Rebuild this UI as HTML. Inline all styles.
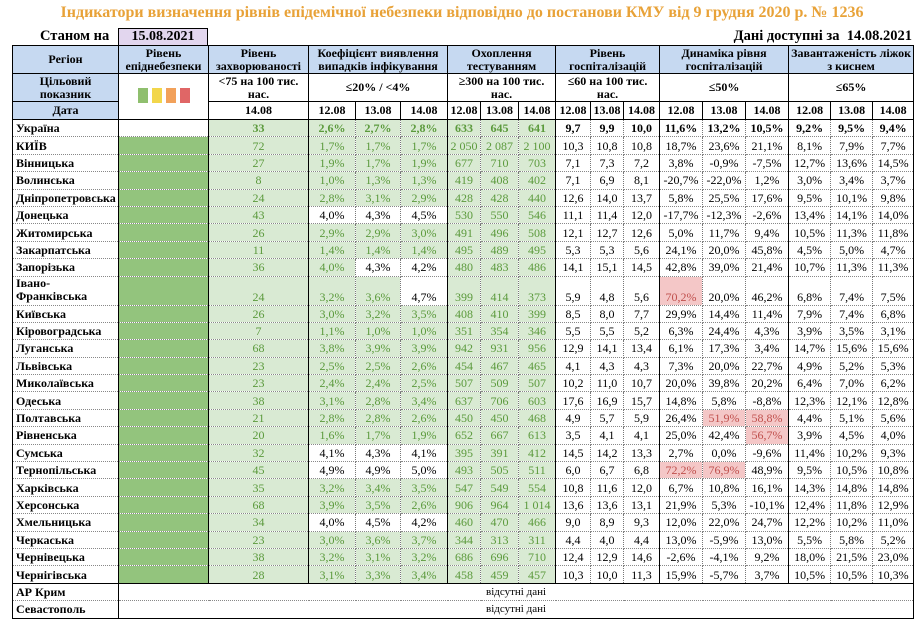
<!DOCTYPE html>
<html><head><meta charset="utf-8">
<style>
body{margin:0;width:924px;height:627px;background:#fff;position:relative;overflow:hidden;font-family:"Liberation Serif",serif;}
.title{position:absolute;left:0;width:924px;top:4px;text-align:center;color:#e8a238;font-weight:bold;font-size:16px;}
.st{position:absolute;left:40px;top:28px;font-weight:bold;font-size:14.5px;}
.dt{position:absolute;left:118px;top:28px;width:90px;height:17px;background:#e2d6ee;border:1px solid #000;border-bottom:none;box-sizing:border-box;text-align:center;font-weight:bold;font-size:14px;line-height:16px;}
.da{position:absolute;right:12px;top:28px;font-weight:bold;font-size:14.5px;}
table{position:absolute;left:12px;top:45px;border-collapse:collapse;table-layout:fixed;width:901px;font-size:12px;border:1.5px solid #000;}
td{padding:0;text-align:center;border-right:1px dotted #777;border-bottom:1px dotted #888;white-space:nowrap;overflow:hidden;line-height:12px;}
thead td{border:1px solid #000;font-weight:bold;font-size:12px;line-height:12.5px;}
thead .b{background:#c6d9f1;}
tbody tr{height:17.4px;}
tbody td:nth-child(1){text-align:left;font-weight:bold;padding-left:3px;font-size:12px;border-right:1px solid #000;}
tbody td:nth-child(2){background:#93c47d;border-right:1px solid #000;}
tbody td:nth-child(3){background:#d9ead3;color:#5b9a3c;border-right:1px solid #000;}
tbody td:nth-child(4),tbody td:nth-child(5),tbody td:nth-child(6),tbody td:nth-child(7),tbody td:nth-child(8),tbody td:nth-child(9){background:#d9ead3;color:#5b9a3c;}
tbody td:nth-child(6),tbody td:nth-child(9),tbody td:nth-child(12),tbody td:nth-child(15){border-right:1px solid #000;}
tbody td.w{background:#fff;color:#000;}
tbody td.r{background:#f4c7c7;color:#c0504d;}
tr.u td{font-weight:bold;font-size:12px;}
tr.u td:nth-child(2){background:#fff;}
tr.iv td{vertical-align:bottom;padding-bottom:2px;}
tr.iv td:nth-child(1){line-height:13px;}
tr.na td:nth-child(2){background:#fff;color:#000;font-size:11px;border-right:none;}
.sq{display:inline-block;width:10px;height:15px;margin:0 2px;}
</style></head><body>
<div class="title">Індикатори визначення рівнів епідемічної небезпеки відповідно до постанови КМУ від 9 грудня 2020 р. № 1236</div>
<div class="st">Станом на</div>
<div class="dt">15.08.2021</div>
<div class="da">Дані доступні за&nbsp; 14.08.2021</div>
<table>
<colgroup><col style="width:106px"><col style="width:90px"><col style="width:100px"><col style="width:47px"><col style="width:45px"><col style="width:47px"><col style="width:33px"><col style="width:38px"><col style="width:37px"><col style="width:35px"><col style="width:33px"><col style="width:36px"><col style="width:43px"><col style="width:43px"><col style="width:43px"><col style="width:42px"><col style="width:42px"><col style="width:41px"></colgroup>
<thead>
<tr style="height:28px"><td class="b">Регіон</td><td class="b">Рівень<br>епіднебезпеки</td><td class="b">Рівень<br>захворюваності</td><td class="b" colspan="3">Коефіцієнт виявлення<br>випадків інфікування</td><td class="b" colspan="3">Охоплення<br>тестуванням</td><td class="b" colspan="3">Рівень<br>госпіталізацій</td><td class="b" colspan="3">Динаміка рівня<br>госпіталізацій</td><td class="b" colspan="3">Завантаженість ліжок<br>з киснем</td></tr>
<tr style="height:28px"><td class="b">Цільовий<br>показник</td><td rowspan="2"><span class="sq" style="background:#8fbf6e"></span><span class="sq" style="background:#f2d64b"></span><span class="sq" style="background:#f2a15a"></span><span class="sq" style="background:#e06666"></span></td><td>&lt;75 на 100 тис.<br>нас.</td><td colspan="3">≤20% / &lt;4%</td><td colspan="3">≥300 на 100 тис.<br>нас.</td><td colspan="3">≤60 на 100 тис.<br>нас.</td><td colspan="3">≤50%</td><td colspan="3">≤65%</td></tr>
<tr style="height:18px"><td class="b">Дата</td><td>14.08</td><td>12.08</td><td>13.08</td><td>14.08</td><td>12.08</td><td>13.08</td><td>14.08</td><td>12.08</td><td>13.08</td><td>14.08</td><td>12.08</td><td>13.08</td><td>14.08</td><td>12.08</td><td>13.08</td><td>14.08</td></tr>
</thead>
<tbody>
<tr class="u"><td>Україна</td><td></td><td>33</td><td>2,6%</td><td>2,7%</td><td>2,8%</td><td>633</td><td>645</td><td>641</td><td>9,7</td><td>9,9</td><td>10,0</td><td>11,6%</td><td>13,2%</td><td>10,5%</td><td>9,2%</td><td>9,5%</td><td>9,4%</td></tr>
<tr><td>КИЇВ</td><td></td><td>72</td><td>1,7%</td><td>1,7%</td><td>1,7%</td><td>2 050</td><td>2 087</td><td>2 100</td><td>10,3</td><td>10,8</td><td>10,8</td><td>18,7%</td><td>23,6%</td><td>21,1%</td><td>8,1%</td><td>7,9%</td><td>7,7%</td></tr>
<tr><td>Вінницька</td><td></td><td>27</td><td>1,9%</td><td>1,7%</td><td>1,9%</td><td>677</td><td>710</td><td>703</td><td>7,1</td><td>7,3</td><td>7,2</td><td>3,8%</td><td>-0,9%</td><td>-7,5%</td><td>12,7%</td><td>13,6%</td><td>14,5%</td></tr>
<tr><td>Волинська</td><td></td><td>8</td><td>1,0%</td><td>1,3%</td><td>1,3%</td><td>419</td><td>408</td><td>402</td><td>7,1</td><td>6,9</td><td>8,1</td><td>-20,7%</td><td>-22,0%</td><td>1,2%</td><td>3,0%</td><td>3,4%</td><td>3,7%</td></tr>
<tr><td>Дніпропетровська</td><td></td><td>24</td><td>2,8%</td><td>3,1%</td><td>2,9%</td><td>428</td><td>428</td><td>440</td><td>12,6</td><td>14,0</td><td>13,7</td><td>5,8%</td><td>25,5%</td><td>17,6%</td><td>9,5%</td><td>10,1%</td><td>9,8%</td></tr>
<tr><td>Донецька</td><td></td><td>43</td><td class="w">4,0%</td><td class="w">4,3%</td><td class="w">4,5%</td><td>530</td><td>550</td><td>546</td><td>11,1</td><td>11,4</td><td>12,0</td><td>-17,7%</td><td>-12,3%</td><td>-2,6%</td><td>13,4%</td><td>14,1%</td><td>14,0%</td></tr>
<tr><td>Житомирська</td><td></td><td>26</td><td>2,9%</td><td>2,9%</td><td>3,0%</td><td>491</td><td>496</td><td>508</td><td>12,1</td><td>12,7</td><td>12,6</td><td>5,0%</td><td>11,7%</td><td>9,4%</td><td>10,5%</td><td>11,3%</td><td>11,8%</td></tr>
<tr><td>Закарпатська</td><td></td><td>11</td><td>1,4%</td><td>1,4%</td><td>1,4%</td><td>495</td><td>489</td><td>495</td><td>5,3</td><td>5,3</td><td>5,6</td><td>24,1%</td><td>20,0%</td><td>45,8%</td><td>4,5%</td><td>5,0%</td><td>4,7%</td></tr>
<tr><td>Запорізька</td><td></td><td>36</td><td>4,0%</td><td class="w">4,3%</td><td class="w">4,2%</td><td>480</td><td>483</td><td>486</td><td>14,1</td><td>15,1</td><td>14,5</td><td>42,8%</td><td>39,0%</td><td>21,4%</td><td>10,7%</td><td>11,3%</td><td>11,3%</td></tr>
<tr class="iv" style="height:27px"><td>Івано-<br>Франківська</td><td></td><td>24</td><td>3,2%</td><td>3,6%</td><td class="w">4,7%</td><td>399</td><td>414</td><td>373</td><td>5,9</td><td>4,8</td><td>5,6</td><td class="r">70,2%</td><td>20,0%</td><td>46,2%</td><td>6,8%</td><td>7,4%</td><td>7,5%</td></tr>
<tr><td>Київська</td><td></td><td>26</td><td>3,0%</td><td>3,2%</td><td>3,5%</td><td>408</td><td>410</td><td>399</td><td>8,5</td><td>8,0</td><td>7,7</td><td>29,9%</td><td>14,4%</td><td>11,4%</td><td>7,9%</td><td>7,4%</td><td>6,8%</td></tr>
<tr><td>Кіровоградська</td><td></td><td>7</td><td>1,1%</td><td>1,0%</td><td>1,0%</td><td>351</td><td>354</td><td>346</td><td>5,5</td><td>5,5</td><td>5,2</td><td>6,3%</td><td>24,4%</td><td>4,3%</td><td>3,9%</td><td>3,5%</td><td>3,1%</td></tr>
<tr><td>Луганська</td><td></td><td>68</td><td>3,8%</td><td>3,9%</td><td>3,9%</td><td>942</td><td>931</td><td>956</td><td>12,9</td><td>14,1</td><td>13,4</td><td>6,1%</td><td>17,3%</td><td>3,4%</td><td>14,7%</td><td>15,6%</td><td>15,6%</td></tr>
<tr><td>Львівська</td><td></td><td>23</td><td>2,5%</td><td>2,5%</td><td>2,6%</td><td>454</td><td>467</td><td>465</td><td>4,1</td><td>4,3</td><td>4,3</td><td>7,3%</td><td>20,0%</td><td>22,7%</td><td>4,9%</td><td>5,2%</td><td>5,3%</td></tr>
<tr><td>Миколаївська</td><td></td><td>23</td><td>2,4%</td><td>2,4%</td><td>2,5%</td><td>507</td><td>509</td><td>507</td><td>10,2</td><td>11,0</td><td>10,7</td><td>20,0%</td><td>39,8%</td><td>20,2%</td><td>6,4%</td><td>7,0%</td><td>6,2%</td></tr>
<tr><td>Одеська</td><td></td><td>38</td><td>3,1%</td><td>2,8%</td><td>3,4%</td><td>637</td><td>706</td><td>603</td><td>17,6</td><td>16,9</td><td>15,7</td><td>14,8%</td><td>5,8%</td><td>-8,8%</td><td>12,3%</td><td>12,1%</td><td>12,8%</td></tr>
<tr><td>Полтавська</td><td></td><td>21</td><td>2,8%</td><td>2,8%</td><td>2,6%</td><td>450</td><td>450</td><td>468</td><td>4,9</td><td>5,7</td><td>5,9</td><td>26,4%</td><td class="r">51,9%</td><td class="r">58,8%</td><td>4,4%</td><td>5,1%</td><td>5,6%</td></tr>
<tr><td>Рівненська</td><td></td><td>20</td><td>1,6%</td><td>1,7%</td><td>1,9%</td><td>652</td><td>667</td><td>613</td><td>3,5</td><td>4,1</td><td>4,1</td><td>25,0%</td><td>42,4%</td><td class="r">56,7%</td><td>3,9%</td><td>4,5%</td><td>4,0%</td></tr>
<tr><td>Сумська</td><td></td><td>32</td><td class="w">4,1%</td><td class="w">4,3%</td><td class="w">4,1%</td><td>395</td><td>391</td><td>412</td><td>14,5</td><td>14,2</td><td>13,3</td><td>2,7%</td><td>0,0%</td><td>-9,6%</td><td>11,4%</td><td>10,2%</td><td>9,3%</td></tr>
<tr><td>Тернопільська</td><td></td><td>45</td><td class="w">4,9%</td><td class="w">4,9%</td><td class="w">5,0%</td><td>493</td><td>505</td><td>511</td><td>6,0</td><td>6,7</td><td>6,8</td><td class="r">72,2%</td><td class="r">76,9%</td><td>48,9%</td><td>9,5%</td><td>10,5%</td><td>10,8%</td></tr>
<tr><td>Харківська</td><td></td><td>35</td><td>3,2%</td><td>3,4%</td><td>3,5%</td><td>547</td><td>549</td><td>554</td><td>10,8</td><td>11,6</td><td>12,0</td><td>6,7%</td><td>10,8%</td><td>16,1%</td><td>14,3%</td><td>14,8%</td><td>14,8%</td></tr>
<tr><td>Херсонська</td><td></td><td>68</td><td>3,9%</td><td>3,5%</td><td>2,6%</td><td>906</td><td>964</td><td>1 014</td><td>13,6</td><td>13,6</td><td>13,1</td><td>21,9%</td><td>5,3%</td><td>-10,1%</td><td>12,4%</td><td>11,8%</td><td>12,9%</td></tr>
<tr><td>Хмельницька</td><td></td><td>34</td><td class="w">4,0%</td><td class="w">4,5%</td><td class="w">4,2%</td><td>460</td><td>470</td><td>466</td><td>9,0</td><td>8,9</td><td>9,3</td><td>12,0%</td><td>22,0%</td><td>24,7%</td><td>12,2%</td><td>10,2%</td><td>11,0%</td></tr>
<tr><td>Черкаська</td><td></td><td>23</td><td>3,0%</td><td>3,6%</td><td>3,7%</td><td>344</td><td>313</td><td>311</td><td>4,4</td><td>4,0</td><td>4,4</td><td>13,0%</td><td>-5,9%</td><td>13,0%</td><td>5,5%</td><td>5,8%</td><td>5,2%</td></tr>
<tr><td>Чернівецька</td><td></td><td>38</td><td>3,2%</td><td>3,1%</td><td>3,2%</td><td>686</td><td>696</td><td>710</td><td>12,4</td><td>12,9</td><td>14,6</td><td>-2,6%</td><td>-4,1%</td><td>9,2%</td><td>18,0%</td><td>21,5%</td><td>23,0%</td></tr>
<tr style="border-bottom:1.5px solid #000"><td>Чернігівська</td><td></td><td>28</td><td>3,1%</td><td>3,3%</td><td>3,4%</td><td>458</td><td>459</td><td>457</td><td>10,3</td><td>10,0</td><td>11,3</td><td>15,9%</td><td>-5,7%</td><td>3,7%</td><td>10,5%</td><td>10,5%</td><td>10,3%</td></tr>
<tr class="na"><td>АР Крим</td><td colspan="17">відсутні дані</td></tr>
<tr class="na"><td>Севастополь</td><td colspan="17">відсутні дані</td></tr>
</tbody>
</table>
</body></html>
